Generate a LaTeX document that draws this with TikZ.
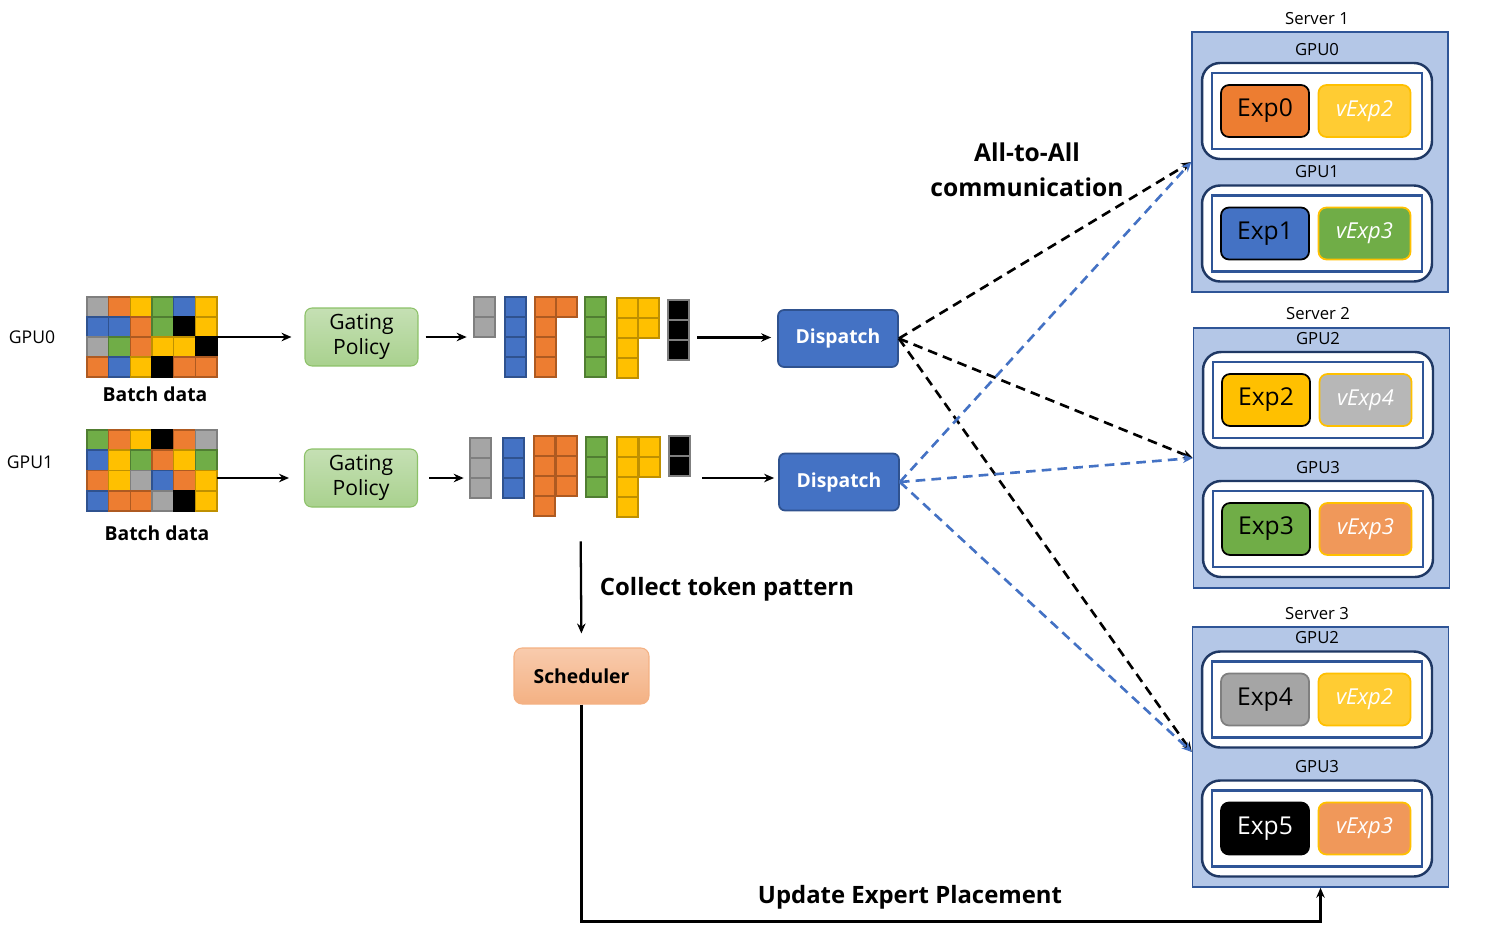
\documentclass[tikz,border=0pt]{standalone}
\usepackage{fontspec}
\setmainfont{Open Sans}
\usetikzlibrary{arrows.meta}

\begin{document}
\begin{tikzpicture}[x=0.02cm, y=-0.02cm,
  cell/.style={fill=c#1, draw=c#1D, line width=0.9pt},
  gatebox/.style={draw=cGateD, line width=0.6pt, top color=cGateT, bottom color=cGateB, rounded corners=0.14cm,
    minimum width=2.26cm, minimum height=1.16cm, align=center, font=\fontsize{12}{14.5}\selectfont},
  dispbox/.style={draw=cBlD, fill=cBl, line width=1pt, rounded corners=0.12cm, minimum width=2.4cm,
    minimum height=1.14cm, text=white, font=\fontsize{11}{13}\selectfont\bfseries},
  schedbox/.style={draw=cSchB, line width=0.6pt, top color=cSchT, bottom color=cSchB, rounded corners=0.16cm,
    minimum width=2.7cm, minimum height=1.12cm, font=\fontsize{11}{13}\selectfont\bfseries},
  server/.style={draw=cSrvD, fill=cSrv, line width=0.9pt, minimum width=5.12cm, minimum height=5.2cm},
  gpubox/.style={draw=cNavy, fill=white, line width=1.4pt, rounded corners=0.36cm, minimum width=4.6cm, minimum height=1.92cm},
  gpuin/.style={draw=cSrvD, line width=1.4pt, minimum width=4.2cm, minimum height=1.52cm},
  exp/.style={fill=c#1, draw=c#1E, text=c#1T, line width=1pt, rounded corners=0.16cm, minimum width=1.76cm,
    minimum height=1.04cm, font=\fontsize{14}{16}\selectfont},
  vexp/.style={fill=cV#1, draw=cYe, text=white, line width=1pt, rounded corners=0.16cm, minimum width=1.84cm,
    minimum height=1.04cm, font=\fontsize{12.5}{14}\selectfont\itshape},
  flow/.style={->, >={Stealth[length=0.2cm, width=0.17cm]}, line width=1.3pt},
  a2a/.style={->, >={Stealth[length=0.2cm, width=0.17cm]}, line width=1.5pt, dash pattern=on 5.5pt off 3.5pt},
  lbl/.style={font=\fontsize{9.5}{11}\selectfont},
  big/.style={font=\fontsize{13.6}{17}\selectfont\bfseries}]
  % Define token and box colors
  \definecolor{cOr}{HTML}{ED7D31} \definecolor{cOrD}{HTML}{AE5A21}
  \definecolor{cYe}{HTML}{FFC000} \definecolor{cYeD}{HTML}{BF9000}
  \definecolor{cGn}{HTML}{70AD47} \definecolor{cGnD}{HTML}{507E32}
  \definecolor{cBl}{HTML}{4472C4} \definecolor{cBlD}{HTML}{2F528F}
  \definecolor{cGr}{HTML}{A5A5A5} \definecolor{cGrD}{HTML}{7F7F7F}
  \colorlet{cBk}{black} \colorlet{cBkD}{black}
  \colorlet{cBx}{black} \colorlet{cBxD}{cGrD}
  \definecolor{cGateT}{HTML}{C5E0B4} \definecolor{cGateB}{HTML}{A9D18E} \definecolor{cGateD}{HTML}{8CC168}
  \definecolor{cSchT}{HTML}{F8CBAD} \definecolor{cSchB}{HTML}{F4B183}
  \definecolor{cSrv}{HTML}{B4C7E7} \definecolor{cSrvD}{HTML}{2F5597} \definecolor{cNavy}{HTML}{1F3864}
  \definecolor{cVYe}{HTML}{FFCC33} \definecolor{cVGn}{HTML}{70AD47}
  \definecolor{cVGr}{HTML}{B7B7B7} \definecolor{cVOr}{HTML}{F0985A}
  \colorlet{cOrE}{black} \colorlet{cBlE}{black} \colorlet{cYeE}{black}
  \colorlet{cGnE}{black} \colorlet{cGrE}{cGrD} \colorlet{cBkE}{black}
  \colorlet{cOrT}{black} \colorlet{cBlT}{black} \colorlet{cYeT}{black}
  \colorlet{cGnT}{black} \colorlet{cGrT}{black} \colorlet{cBkT}{white}

  \useasboundingbox (0,0) rectangle (1490,946);

  % GPU names on the left
  \node[font=\fontsize{10}{12}\selectfont] (gpu0) at (32,337) {GPU0};
  \node[font=\fontsize{10}{12}\selectfont] (gpu1) at (30,462) {GPU1};

  % Batch data grids
  \node[minimum width=2.6cm, minimum height=1.6cm, inner sep=0] (batch0) at (152,337) {};
  \foreach \row [count=\r from 0] in {{Gr,Or,Ye,Gn,Bl,Ye},{Bl,Bl,Or,Gn,Bk,Ye},{Gr,Gn,Or,Ye,Ye,Bk},{Or,Bl,Ye,Bk,Or,Or}}
    \foreach \c [count=\k from 0] in \row
      \draw[cell=\c] ({87+\k*21.67},{297+\r*20}) rectangle +(21.67,20);
  \node[minimum width=2.6cm, minimum height=1.62cm, inner sep=0] (batch1) at (152,470.5) {};
  \foreach \row [count=\r from 0] in {{Gn,Or,Ye,Bk,Or,Gr},{Bl,Ye,Gn,Or,Ye,Gn},{Or,Ye,Gr,Bl,Or,Ye},{Bl,Or,Or,Gr,Bk,Ye}}
    \foreach \c [count=\k from 0] in \row
      \draw[cell=\c] ({87+\k*21.67},{430+\r*20.25}) rectangle +(21.67,20.25);
  \node[font=\fontsize{11}{13}\selectfont\bfseries] (bd0) at (155,394) {Batch data};
  \node[font=\fontsize{11}{13}\selectfont\bfseries] (bd1) at (157,533) {Batch data};

  % Gating
  \node[gatebox] (gate0) at (361.5,337) {Gating\\Policy};
  \node[gatebox] (gate1) at (361,478) {Gating\\Policy};

  % Tokens sorted per expert
  \node[minimum width=4.34cm, minimum height=1.62cm, inner sep=0] (tok0) at (581.5,337.5) {};
  \foreach \x/\y/\n/\c in {474/297/2/Gr, 505/297/4/Bl, 535/297/4/Or, 556/297/1/Or, 585/297/4/Gn,
                           617/298/4/Ye, 638/298/2/Ye, 668/300/3/Bx}
    \foreach \k in {1,...,\n}
      \draw[cell=\c] (\x,{\y+(\k-1)*20}) rectangle +(21,20);
  \node[minimum width=4.42cm, minimum height=1.62cm, inner sep=0] (tok1) at (580.5,476.5) {};
  \foreach \x/\y/\n/\c in {470/438/3/Gr, 503/438/3/Bl, 534/436/4/Or, 556/436/3/Or, 586/437/3/Gn,
                           617/437/4/Ye, 639/437/2/Ye, 669/436/2/Bx}
    \foreach \k in {1,...,\n}
      \draw[cell=\c] (\x,{\y+(\k-1)*20}) rectangle +(21,20);

  % Dispatch
  \node[dispbox] (disp0) at (838,338.5) {Dispatch};
  \node[dispbox] (disp1) at (839,482) {Dispatch};

  % Flow arrows
  \draw[flow, shorten >=0.26cm] (batch0.east) -- (gate0.west);
  \draw[flow, shorten >=0.3cm] (batch1.east |- gate1.west) -- (gate1.west);
  \draw[flow, shorten <=0.14cm, shorten >=0.12cm] (gate0.east) -- (tok0.west |- gate0.east);
  \draw[flow, shorten <=0.22cm, shorten >=0.12cm] (gate1.east) -- (tok1.west |- gate1.east);
  \draw[flow, shorten <=0.14cm, shorten >=0.12cm] (tok0.east) -- (disp0.west |- tok0.east);
  \draw[flow, shorten <=0.22cm, shorten >=0.08cm] (tok1.east |- gate1.east) -- (disp1.west |- gate1.east);

  % Servers
  \node[server] (srv1) at (1320,162) {};
  \node[server] (srv2) at (1321.5,458) {};
  \node[server] (srv3) at (1320.5,757) {};
  \node[lbl] (srv1lbl) at (1317,19) {Server 1};
  \node[lbl] (srv2lbl) at (1318,314) {Server 2};
  \node[lbl] (srv3lbl) at (1317,614) {Server 3};

  % GPUs with their experts
  \foreach \g/\sx/\y/\lbl/\e/\ec/\v/\vc in {
      g0/1317/111/GPU0/Exp0/Or/vExp2/Ye, g1/1317/233.5/GPU1/Exp1/Bl/vExp3/Gn,
      g2/1318/400/GPU2/Exp2/Ye/vExp4/Gr, g3/1318/529/GPU3/Exp3/Gn/vExp3/Or,
      g4/1317/699.5/GPU2/Exp4/Gr/vExp2/Ye, g5/1317/828.5/GPU3/Exp5/Bk/vExp3/Or} {
    \node[gpubox] (\g) at (\sx,\y) {};
    \node[gpuin] (\g-in) at (\g) {};
    \node[exp=\ec] (\g-e) at ({\sx-52},\y) {\e};
    \node[vexp=\vc] (\g-v) at ({\sx+47.5},\y) {\v};
    \node[lbl] (\g-lbl) at (\sx,{\y-61.5}) {\lbl};
  }

  % All-to-All communication
  \draw[a2a] (disp0.east) -- (srv1.west);
  \draw[a2a] (disp0.east) -- (srv2.west);
  \draw[a2a] (disp0.east) -- ([yshift=0.1cm]srv3.west);
  \draw[a2a, draw=cBl] (disp1.east) -- (srv1.west);
  \draw[a2a, draw=cBl] (disp1.east) -- (srv2.west);
  \draw[a2a, draw=cBl] (disp1.east) -- ([yshift=0.1cm]srv3.west);
  \node[big, font=\fontsize{14}{20}\selectfont\bfseries, align=center] (a2albl) at (1027,170) {All-to-All\\communication};

  % Scheduler loop
  \node[schedbox] (sched) at (581.5,676) {Scheduler};
  \draw[flow, shorten <=0.48cm, shorten >=0.28cm] (tok1.south) -- (sched.north);
  \node[big] (collect) at (727,589) {Collect token pattern};
  \draw[flow] (sched.south) -- ++(0,217) -| (srv3.south);
  \node[big] (update) at (910,897) {Update Expert Placement};
\end{tikzpicture}
\end{document}
